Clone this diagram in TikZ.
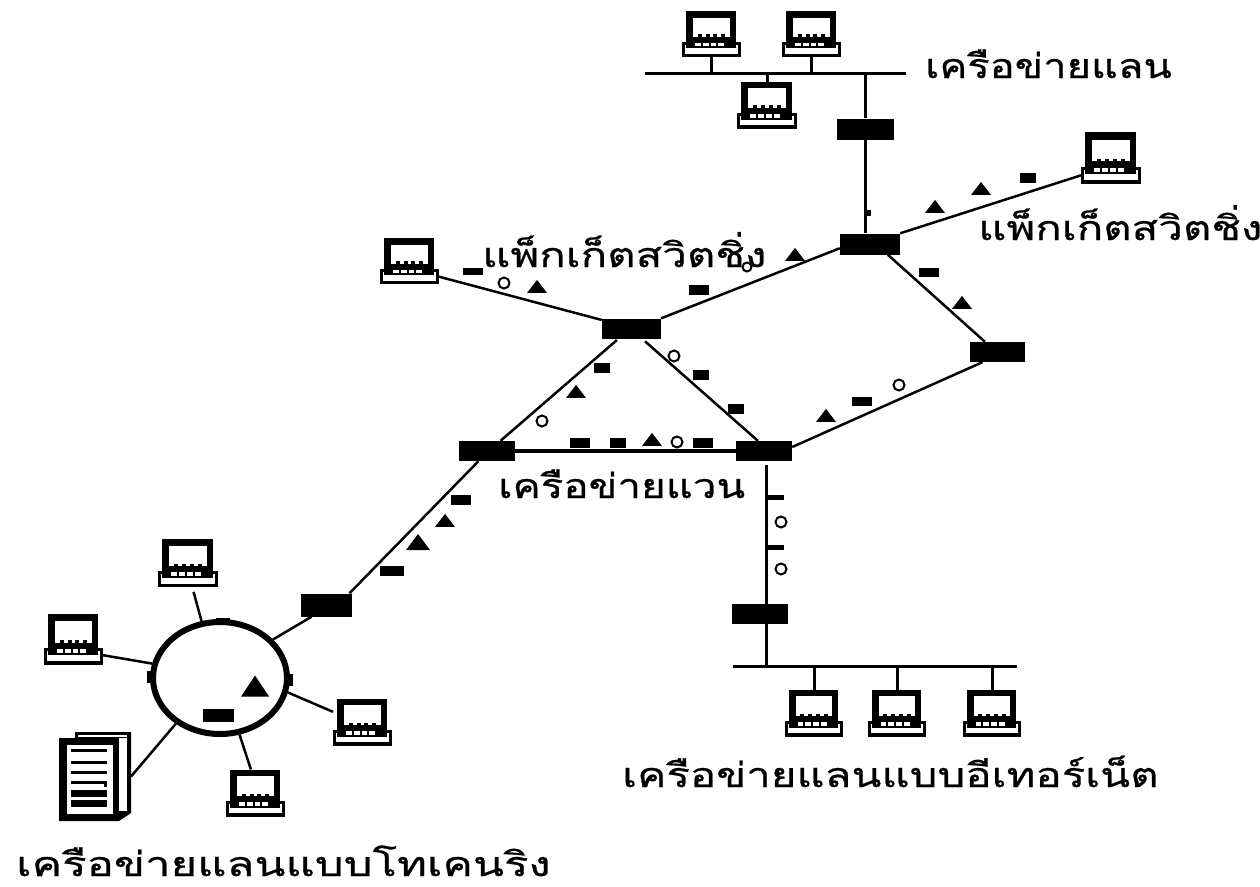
\documentclass[tikz,border=0pt]{standalone}
\usepackage{fontspec}
\usepackage{graphicx}
\usetikzlibrary{shapes.geometric}
\newfontfamily\thaifont[Script=Thai,FakeStretch=1.25,FakeBold=0.6]{Loma}
\tikzset{
 lnk/.style={line width=2.5pt,black},
 bus/.style={line width=3pt,black},
 sw/.style={rectangle,fill=black,inner sep=0,minimum width=57pt,minimum height=21pt},
 mrect/.style={rectangle,fill=black,inner sep=0,minimum width=#1,minimum height=10pt},
 mtri/.style={isosceles triangle,isosceles triangle stretches,shape border rotate=90,fill=black,inner sep=0,minimum width=20pt,minimum height=13pt},
 mcirc/.style={circle,draw=black,line width=2pt,fill=white,inner sep=0,minimum size=11pt},
 lbl/.style={inner sep=0,anchor=base west,font=\thaifont\fontsize{34pt}{34pt}\selectfont},
 pcbox/.style={rectangle,inner sep=0,outer sep=0}
}
% name, cx, cy, w, h
\newcommand{\mypc}[5]{%
 \node[pcbox,minimum width=#4pt,minimum height=#5pt] (#1) at (#2,#3) {};
 \begin{scope}[shift={(#1.center)},xscale=#4/60,yscale=#5/48]
  \fill[black] (-30,8) rectangle (30,24);
  \fill[white] (-27,11) rectangle (27,20.5);
  \fill[black] (-26,-24) rectangle (25,15);
  \fill[white] (-19,-17) rectangle (19,3);
  \foreach \k in {-14,-6,2,10} {\fill[black] (\k,0.5) rectangle (\k+4,3);
    \fill[white] (\k-3,9) rectangle (\k+3,13);}
 \end{scope}}
\begin{document}
\begin{tikzpicture}[x=1pt,y=-1pt]
\clip (0,0) rectangle (1260,886);
\fill[white] (0,0) rectangle (1260,886);
% coordinates for the buses
\coordinate (busTw) at (645,73);
\coordinate (busTe) at (906,73);
\coordinate (busBw) at (733,666);
\coordinate (busBe) at (1017,666);
\coordinate (tapTop) at (766,465);
\coordinate (tapBot) at (766,666);
% computers
\mypc{pcA}{711.5}{34}{59}{46}
\mypc{pcB}{811.5}{34}{59}{46}
\mypc{pcC}{767}{105}{60}{47}
\mypc{pcRT}{1111}{158}{60}{52}
\mypc{pcLT}{409.5}{261}{59}{46}
\mypc{pcE}{814}{713}{58}{47}
\mypc{pcF}{897}{713}{58}{47}
\mypc{pcG}{992}{713}{58}{47}
\mypc{pcT}{188}{563}{60}{48}
\mypc{pcL}{73.5}{639.5}{59}{51}
\mypc{pcR}{362.5}{722}{59}{47}
\mypc{pcD}{255.5}{793}{59}{47}
% switches
\node[sw] (box1) at (865.5,129) {};
\node[sw,minimum width=60pt] (box2) at (870,244) {};
\node[sw,minimum width=59pt,minimum height=20pt] (box3) at (631.5,328.5) {};
\node[sw,minimum width=56pt,minimum height=20pt] (box4) at (487,451) {};
\node[sw,minimum width=56pt,minimum height=20pt] (box5) at (764,451) {};
\node[sw,minimum width=55pt,minimum height=20pt] (box6) at (997.5,352) {};
\node[sw,minimum width=51pt,minimum height=23pt] (box7) at (326.5,605) {};
\node[sw,minimum width=56pt,minimum height=20pt] (box8) at (760,614) {};
% ring
\node[ellipse,draw=black,line width=6pt,inner sep=0,minimum width=134pt,minimum height=112pt] (ring) at (220,678) {};
\node[rectangle,fill=black,inner sep=0,minimum width=14pt,minimum height=4pt] (bumpA) at (223,620) {};
\node[rectangle,fill=black,inner sep=0,minimum width=4pt,minimum height=12pt] (bumpB) at (149,677) {};
\node[rectangle,fill=black,inner sep=0,minimum width=4pt,minimum height=12pt] (bumpC) at (291,680) {};
% server
\node[rectangle,inner sep=0,outer sep=0,minimum width=72pt,minimum height=89pt] (server) at (95,776.5) {};
\fill[black] (59,738) -- (75,738) -- (75,732) -- (131,732) -- (131,813) -- (119,821) -- (59,821) -- cycle;
\fill[white] (67,745) rectangle (113,814);
\fill[white] (119,738) rectangle (127,811);
\fill[white] (78,735) rectangle (127,737);
\foreach \yy in {750,762,772,782} {\fill[black] (71,\yy-1.5) rectangle (107,\yy+1.5);}
\fill[black] (104,782) rectangle (107,787);
\fill[black] (71,790) rectangle (107,797);
\fill[black] (71,800) rectangle (107,807);
% buses and links
\draw[bus] (busTw) -- (busTe);
\draw[bus] (pcA.south) -- (pcA.south |- busTw);
\draw[bus] (pcB.south) -- (pcB.south |- busTw);
\draw[bus] (pcC.north) -- (pcC.north |- busTw);
\draw[bus] (box1.north) -- (box1.north |- busTw);
\draw[bus] (box1.south) -- (box1.south |- box2.north);
\draw[bus] (busBw) -- (busBe);
\draw[bus] (tapTop) -- (tapBot);
\draw[bus] (pcE.north) -- (pcE.north |- busBw);
\draw[bus] (pcF.north) -- (pcF.north |- busBw);
\draw[bus] (pcG.north) -- (pcG.north |- busBw);
\draw[lnk] (box2.north east) -- (pcRT.210);
\draw[lnk] (box2.188) -- (box3.19);
\draw[lnk] (pcLT.-28) -- (box3.164);
\draw[lnk,shorten <=2pt] (box3.-142) -- (box4.37);
\draw[lnk,shorten <=4pt] (box3.-44) -- (box5.121);
\draw[line width=4pt] (box4.east) -- (box5.west);
\draw[lnk] (box5.8) -- (box6.-146);
\draw[lnk] (box2.-31) -- (box6.141);
\draw[lnk] (box4.-130) -- (box7.27);
\draw[lnk] (box7.-142) -- (ring.36);
\draw[lnk,shorten <=5pt] (pcT.-80) -- (ring.108);
\draw[lnk] (pcL.-28) -- (ring.168);
\draw[lnk] (ring.-12) -- (pcR.161);
\draw[lnk] (ring.-71) -- (pcD.101);
\draw[lnk] (ring.-134) -- (server.east);
% packet marks
\node[rectangle,fill=black,inner sep=0,minimum width=5pt,minimum height=6pt] (dot1) at (868,213) {};
\node[mrect=16pt] (a1) at (1028,178) {};
\node[mtri] (a2) at (981,190) {};
\node[mtri] (a3) at (935,208) {};
\node[mtri] (b1) at (795,256) {};
\node[mcirc,minimum size=9pt] (b2) at (747,267) {};
\node[mrect=20pt] (b3) at (699,290) {};
\node[mrect=20pt,minimum height=7pt] (c1) at (473,271) {};
\node[mcirc] (c2) at (504,283) {};
\node[mtri] (c3) at (537,288) {};
\node[mrect=16pt] (d1) at (602,368) {};
\node[mtri] (d2) at (576,393) {};
\node[mcirc] (d3) at (542,421) {};
\node[mcirc] (e1) at (674,356) {};
\node[mrect=16pt] (e2) at (701,375) {};
\node[mrect=16pt] (e3) at (736,409) {};
\node[mrect=20pt] (f1) at (580,443) {};
\node[mrect=16pt] (f2) at (618,443) {};
\node[mtri] (f3) at (652,441) {};
\node[mcirc] (f4) at (677,442) {};
\node[mrect=20pt] (f5) at (703,443) {};
\node[mtri] (g1) at (826,417) {};
\node[mrect=20pt,minimum height=9pt] (g2) at (862,401) {};
\node[mcirc] (g3) at (899,385) {};
\node[mrect=20pt,minimum height=9pt] (h1) at (929,272) {};
\node[mtri] (h2) at (962,304) {};
\node[mrect=20pt] (i1) at (461,500) {};
\node[mtri] (i2) at (445,522) {};
\node[mtri,minimum width=24pt,minimum height=16pt] (i3) at (418,544) {};
\node[mrect=24pt] (i4) at (392,571) {};
\node[mtri,minimum width=28pt,minimum height=21pt] (j1) at (255,689) {};
\node[mrect=31pt,minimum height=13pt] (j2) at (218,715) {};
\node[mrect=18pt,minimum height=5pt] (k1) at (775,497.5) {};
\node[mcirc] (k2) at (781,522) {};
\node[mrect=18pt,minimum height=5pt] (k3) at (775,547.5) {};
\node[mcirc] (k4) at (781,569) {};
% labels
\node[lbl] (t1) at (925,78) {\scalebox{0.98}[1]{เครือข่ายแลน}};
\node[lbl] (t2) at (978,240) {\scalebox{1.03}[1]{แพ็กเก็ตสวิตชิ่ง}};
\node[lbl] (t3) at (482,267) {\scalebox{1.03}[1]{แพ็กเก็ตสวิตชิ่ง}};
\node[lbl] (t4) at (498,498) {\scalebox{0.99}[1]{เครือข่ายแวน}};
\node[lbl] (t5) at (622,787) {\scalebox{1.03}[1]{เครือข่ายแลนแบบอีเทอร์เน็ต}};
\node[lbl] (t6) at (16,876) {\scalebox{1.07}[1]{เครือข่ายแลนแบบโทเคนริง}};
\end{tikzpicture}
\end{document}
